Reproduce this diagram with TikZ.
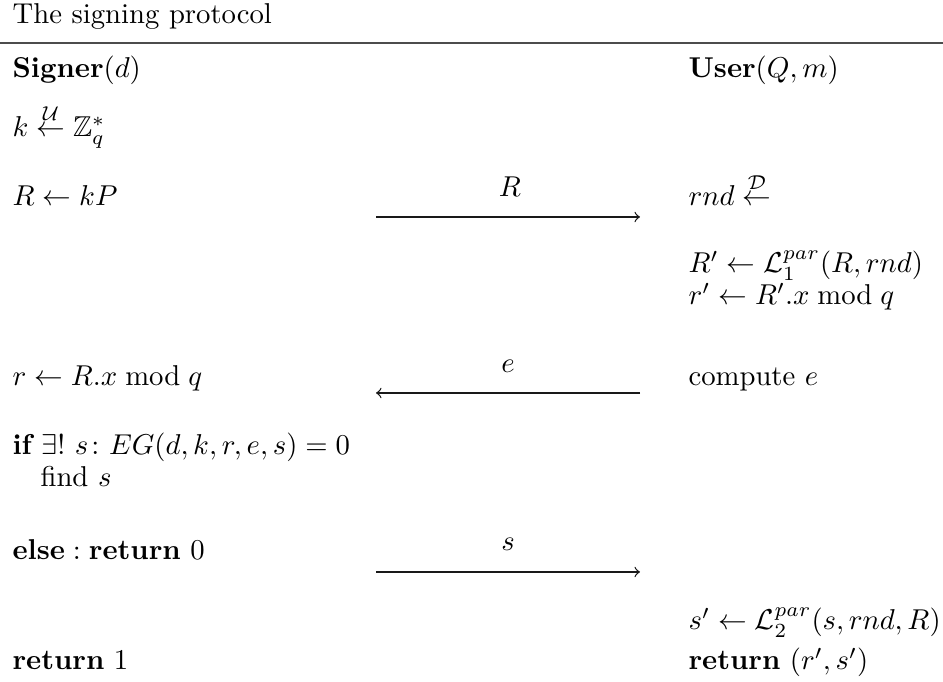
\documentclass[tikz,border=0pt]{standalone}
\usepackage{amsmath,amssymb}
\begin{document}
\begin{tikzpicture}[x=0.3484pt,y=-0.3484pt,
  txt/.style={anchor=base west,inner sep=0pt},
  lbl/.style={anchor=base,inner sep=0pt},
  msg/.style={-to,line width=0.45pt,draw=black!90}]
\useasboundingbox (0,0) rectangle (943,682);
\node[txt] (title) at (12,24) {The signing protocol};
\coordinate (rl) at (0,43);
\coordinate (rr) at (943,43);
\draw[line width=0.45pt,draw=black!70] (rl) -- (rr);
% left column
\node[txt] (signer) at (12,78) {$\textbf{Signer}(d)$};
\node[txt] (l1) at (12,137) {$k \overset{\mathcal{U}}{\leftarrow} \mathbb{Z}_q^*$};
\node[txt] (l2) at (12,206) {$R \leftarrow kP$};
\node[txt] (l3) at (12,386) {$r \leftarrow R.x \bmod q$};
\node[txt] (l4) at (12,455) {$\textbf{if}\ \exists!\ s\colon EG(d,k,r,e,s)=0$};
\node[txt] (l5) at (40,487) {find $s$};
\node[txt] (l6) at (12,560) {$\textbf{else}:\textbf{return}\ 0$};
\node[txt] (l7) at (12,670) {$\textbf{return}\ 1$};
% right column
\node[txt] (user) at (688,78) {$\textbf{User}(Q,m)$};
\node[txt] (r1) at (688,206) {$rnd \overset{\mathcal{D}}{\leftarrow}$};
\node[txt] (r2) at (688,273) {$R' \leftarrow \mathcal{L}_1^{par}(R,rnd)$};
\node[txt] (r3) at (688,305) {$r' \leftarrow R'.x \bmod q$};
\node[txt] (r4) at (688,386) {compute $e$};
\node[txt] (r5) at (688,630) {$s' \leftarrow \mathcal{L}_2^{par}(s,rnd,R)$};
\node[txt] (r6) at (688,670) {$\textbf{return}\ (r',s')$};
% messages
\coordinate (a1l) at (376,217); \coordinate (a1r) at (640,217);
\coordinate (a2l) at (376,393); \coordinate (a2r) at (640,393);
\coordinate (a3l) at (376,572); \coordinate (a3r) at (640,572);
\draw[msg] (a1l) -- (a1r);
\draw[msg] (a2r) -- (a2l);
\draw[msg] (a3l) -- (a3r);
\node[lbl] (m1) at (510,197) {$R$};
\node[lbl] (m2) at (508,373) {$e$};
\node[lbl] (m3) at (508,551) {$s$};
\end{tikzpicture}
\end{document}
